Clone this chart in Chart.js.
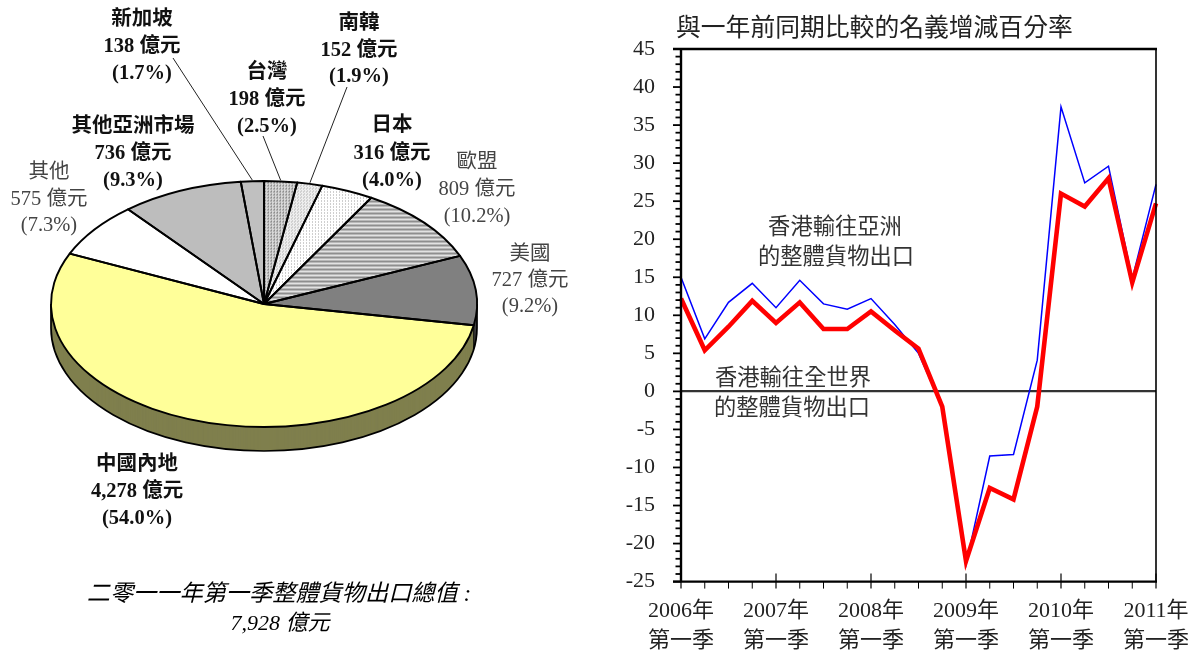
<!DOCTYPE html>
<html lang="zh-Hant">
<head>
<meta charset="utf-8">
<style>
html,body{margin:0;padding:0;background:#fff;width:1199px;height:651px;overflow:hidden}
canvas{position:absolute;top:0}
#pie{left:0}
#line{left:600px}
</style>
<script src="https://cdn.jsdelivr.net/npm/chart.js@4/dist/chart.umd.min.js"></script>
</head>
<body>
<canvas id="pie" width="600" height="651"></canvas>
<canvas id="line" width="599" height="651"></canvas>
<script>
// ---- data: pie ----
const pieNames   = ['台灣','南韓','日本','歐盟','美國','中國內地','其他','其他亞洲市場','新加坡'];
const pieValues  = [198,152,316,809,727,4278,575,736,138];
const pieAmounts = ['198 億元','152 億元','316 億元','809 億元','727 億元','4,278 億元','575 億元','736 億元','138 億元'];
const piePercents= ['(2.5%)','(1.9%)','(4.0%)','(10.2%)','(9.2%)','(54.0%)','(7.3%)','(9.3%)','(1.7%)'];
const pieTotalLines = ['二零一一年第一季整體貨物出口總值 :','7,928 億元'];

// ---- data: line ----
const categories = ['2006Q1','2006Q2','2006Q3','2006Q4','2007Q1','2007Q2','2007Q3','2007Q4','2008Q1','2008Q2','2008Q3','2008Q4','2009Q1','2009Q2','2009Q3','2009Q4','2010Q1','2010Q2','2010Q3','2010Q4','2011Q1'];
const worldValues = [12.2,5.4,8.5,11.9,9.0,11.7,8.2,8.2,10.5,8.0,5.6,-2.0,-22.3,-12.7,-14.2,-2.0,26.0,24.3,28.0,14.3,24.7];
const asiaValues  = [15.0,6.9,11.7,14.2,11.0,14.6,11.5,10.8,12.2,8.8,5.0,-2.0,-22.8,-8.5,-8.3,4.1,37.4,27.4,29.6,14.8,27.2];
const yearLabels = {'2006Q1':['2006年','第一季'],'2007Q1':['2007年','第一季'],'2008Q1':['2008年','第一季'],'2009Q1':['2009年','第一季'],'2010Q1':['2010年','第一季'],'2011Q1':['2011年','第一季']};
const lineTitle = '與一年前同期比較的名義增減百分率';
const asiaNote = ['香港輸往亞洲','的整體貨物出口'];
const worldNote = ['香港輸往全世界','的整體貨物出口'];

// ---- layout / style ----
const FONT = '"Liberation Serif","Noto Sans CJK TC",serif';
const RX = 213, RY = 123, DEPTH = 24;
const labelLayout = [ // centre x, first-line centre y, line step, bold
  [267,73,27,true],[359,24,26.5,true],[392,126,27.5,true],[477,163,27,false],[530,255,26,false],
  [137,465,27,true],[49,173,26.5,false],[133,127,27,true],[142,20,27,true]
];
const leaders = [[173,58,8],[263,136,0],[347,87,1]]; // label-side end, slice index

function tile(w,h,paint){
  const c=document.createElement('canvas');c.width=w;c.height=h;
  const x=c.getContext('2d');paint(x);
  const p=x.createPattern(c,'repeat');
  p.setTransform(new DOMMatrix().scale(1,RX/RY));
  return p;
}
function dots(bg,fg,step){return tile(step,step,x=>{x.fillStyle=bg;x.fillRect(0,0,step,step);x.fillStyle=fg;x.fillRect(0,0,1,1);if(step===2){x.fillRect(1,1,1,1);}});}
const fills=[
  tile(3,3,x=>{x.fillStyle='#d8d8d8';x.fillRect(0,0,3,3);x.fillStyle='#8c8c8c';x.fillRect(0,0,2,1);x.fillRect(1,2,1,1);}),
  tile(3,3,x=>{x.fillStyle='#eeeeee';x.fillRect(0,0,3,3);x.fillStyle='#b4b4b4';x.fillRect(0,0,1,1);x.fillRect(1,2,1,1);}),
  dots('#ffffff','#a0a0a0',3),
  tile(4,4,x=>{x.fillStyle='#e2e2e2';x.fillRect(0,0,4,4);x.fillStyle='#8e8e8e';x.fillRect(0,0,4,2);}),
  '#808080','#FFFF99','#FFFFFF',
  dots('#d8d8d8','#a2a2a2',2),
  '#C0C0C0'
];
const wallFills=['#6c6c6c','#777','#808080','#666','#404040','#7F7F4D','#808080','#666','#606060'];

function wedge(ctx,el,dy){
  ctx.beginPath();
  ctx.moveTo(el.x,el.y+(dy||0)*RX/RY);
  ctx.arc(el.x,el.y+(dy||0)*RX/RY,el.outerRadius,el.startAngle,el.endAngle);
  ctx.closePath();
}
const ellipsePie={
  id:'ellipsePie',
  beforeDatasetsDraw(chart){
    const ctx=chart.ctx, arcs=chart.getDatasetMeta(0).data, el=arcs[0];
    const cx=el.x, cy=el.y;
    ctx.save();
    ctx.translate(cx,cy);ctx.scale(1,RY/RX);ctx.translate(-cx,-cy);
    for(let d=DEPTH;d>=1;d--){
      arcs.forEach((a,i)=>{ctx.fillStyle=wallFills[i];wedge(ctx,a,d);ctx.fill();});
    }
    ctx.restore();
    // wall outline
    ctx.save();
    ctx.strokeStyle='#000';ctx.lineWidth=1.7;
    ctx.beginPath();
    ctx.ellipse(cx,cy+DEPTH,RX,RY,0,0,Math.PI);
    ctx.moveTo(cx-RX,cy);ctx.lineTo(cx-RX,cy+DEPTH);
    ctx.moveTo(cx+RX,cy);ctx.lineTo(cx+RX,cy+DEPTH);
    ctx.stroke();
    const us=arcs[4];
    const bx=cx+RX*Math.cos(us.endAngle), by=cy+RY*Math.sin(us.endAngle);
    ctx.lineWidth=1;
    ctx.beginPath();ctx.moveTo(bx,by);ctx.lineTo(bx,by+DEPTH);ctx.stroke();
    ctx.restore();
    // top surface is drawn under the flattened transform
    ctx.save();
    ctx.translate(cx,cy);ctx.scale(1,RY/RX);ctx.translate(-cx,-cy);
  },
  afterDatasetsDraw(chart){
    const ctx=chart.ctx, arcs=chart.getDatasetMeta(0).data;
    const cx=arcs[0].x, cy=arcs[0].y;
    ctx.restore();
    ctx.save();
    ctx.strokeStyle='#000';ctx.lineWidth=1.9;ctx.lineJoin='round';
    arcs.forEach(a=>{
      ctx.beginPath();
      ctx.moveTo(cx,cy);
      ctx.ellipse(cx,cy,RX,RY,0,a.startAngle,a.endAngle);
      ctx.closePath();
      ctx.stroke();
    });
    // leader lines
    ctx.strokeStyle='#222';ctx.lineWidth=1;
    leaders.forEach(([lx,ly,i])=>{
      const a=arcs[i], m=(a.startAngle+a.endAngle)/2;
      ctx.beginPath();ctx.moveTo(lx,ly);
      ctx.lineTo(cx+RX*Math.cos(m),cy+RY*Math.sin(m)-1);
      ctx.stroke();
    });
    // labels
    ctx.textAlign='center';ctx.textBaseline='middle';
    pieNames.forEach((n,i)=>{
      const [x,y,st,b]=labelLayout[i];
      ctx.font=(b?'bold ':'')+'20.5px '+FONT;
      ctx.fillStyle=b?'#111':'#444';
      [n,pieAmounts[i],piePercents[i]].forEach((t,k)=>ctx.fillText(t,x,y+k*st));
    });
    ctx.fillStyle='#000';
    ctx.font='italic 23.2px '+FONT;
    ctx.fillText(pieTotalLines[0],279,595);
    ctx.font='italic 22px '+FONT;
    ctx.fillText(pieTotalLines[1],280,624);
    ctx.restore();
  }
};

new Chart(document.getElementById('pie'),{
  type:'pie',
  data:{labels:pieNames,datasets:[{data:pieValues,backgroundColor:fills,borderWidth:0,clip:false}]},
  options:{
    responsive:false,animation:false,devicePixelRatio:1,
    radius:RX,rotation:0,
    layout:{padding:{left:0,right:72,top:0,bottom:43}},
    events:[],
    plugins:{legend:{display:false},title:{display:false},tooltip:{enabled:false}}
  },
  plugins:[ellipsePie]
});

const axisDecor={
  id:'axisDecor',
  afterDraw(chart){
    const ctx=chart.ctx,{left,right,top,bottom}=chart.chartArea,x=chart.scales.x,y=chart.scales.y;
    ctx.save();
    ctx.strokeStyle='#000';
    for(let v=-25;v<=45;v++){
      const p=y.getPixelForValue(v), maj=v%5===0;
      ctx.lineWidth=1.8;
      ctx.beginPath();ctx.moveTo(left,p);ctx.lineTo(left-(maj?8:5.5),p);ctx.stroke();
    }
    categories.forEach((c,i)=>{
      const p=x.getPixelForValue(i), maj=!!yearLabels[c];
      ctx.lineWidth=maj?1.2:1;
      ctx.beginPath();ctx.moveTo(p,bottom-(maj?8:0));ctx.lineTo(p,bottom+7);ctx.stroke();
    });
    ctx.lineWidth=1.6;
    ctx.beginPath();ctx.moveTo(right,top);ctx.lineTo(right,bottom);ctx.stroke();
    ctx.lineWidth=2.4;
    ctx.beginPath();
    ctx.moveTo(left-8,top);ctx.lineTo(right+1,top);
    ctx.moveTo(left,top);ctx.lineTo(left,bottom);
    ctx.moveTo(left-8,bottom);ctx.lineTo(right+1,bottom);
    ctx.stroke();
    ctx.fillStyle='#222';ctx.textBaseline='middle';ctx.textAlign='left';
    ctx.font='24.8px '+FONT;
    ctx.fillText(lineTitle,76,29);
    ctx.textAlign='center';ctx.font='22.3px '+FONT;ctx.fillStyle='#333';
    ctx.fillText(asiaNote[0],235,228);ctx.fillText(asiaNote[1],236,258);
    ctx.fillText(worldNote[0],193,379);ctx.fillText(worldNote[1],192,409);
    ctx.restore();
  }
};

new Chart(document.getElementById('line'),{
  type:'line',
  data:{labels:categories,datasets:[
    {label:'香港輸往全世界的整體貨物出口',data:worldValues,borderColor:'#FF0000',borderWidth:4.6,pointRadius:0,tension:0,borderJoinStyle:'miter',clip:false,order:1},
    {label:'香港輸往亞洲的整體貨物出口',data:asiaValues,borderColor:'#0000FF',borderWidth:1.5,pointRadius:0,tension:0,borderJoinStyle:'miter',clip:false,order:2}
  ]},
  options:{
    responsive:false,animation:false,devicePixelRatio:1,events:[],
    layout:{padding:{left:0,right:43,top:49,bottom:0}},
    plugins:{legend:{display:false},title:{display:false},tooltip:{enabled:false}},
    scales:{
      x:{
        type:'category',offset:false,
        grid:{display:false,drawTicks:false},border:{display:false},
        afterFit(s){s.height=69.4;s.paddingLeft=0;s.paddingRight=0;},
        ticks:{autoSkip:false,maxRotation:0,minRotation:0,padding:15,color:'#222',
          font:{family:FONT,size:22,lineHeight:1.35},
          callback(v){return yearLabels[categories[v]]||'';}}
      },
      y:{
        type:'linear',min:-25,max:45,
        afterFit(s){s.width=81;s.paddingTop=0;s.paddingBottom=0;},
        grid:{drawTicks:false,lineWidth:2.2,color(c){return c.tick.value===0?'#333':'transparent';}},
        border:{display:false},
        ticks:{stepSize:1,autoSkip:false,padding:26,color:'#222',font:{family:FONT,size:22},
          callback(v){return v%5===0?String(v):'';}}
      }
    }
  },
  plugins:[axisDecor]
});
</script>
</body>
</html>
